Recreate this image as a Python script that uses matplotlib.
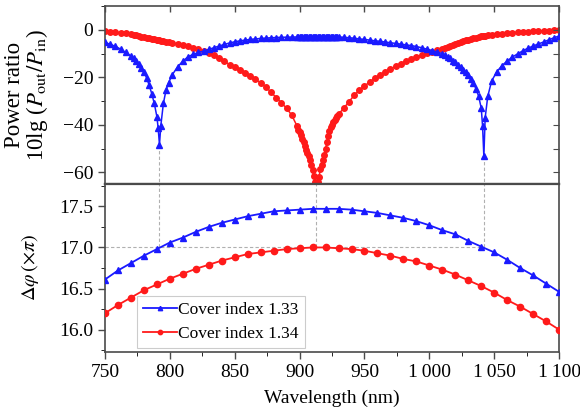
import matplotlib
matplotlib.use('Agg')
import matplotlib.pyplot as plt
import numpy as np
from matplotlib.ticker import MultipleLocator

plt.rcParams['font.family'] = ['Liberation Serif', 'DejaVu Serif']
plt.rcParams['mathtext.fontset'] = 'stix'

# power ratio panel (dB)
wl_top = [750, 754, 758, 762, 766, 770, 772, 774, 776, 778, 780, 782, 784, 786, 788, 790, 791, 792, 793, 795, 797, 799,
          802, 806, 810, 814, 818, 822, 826, 830, 834, 838, 842, 846, 850, 854, 858, 862, 866, 870, 874, 878, 882, 886,
          890, 894, 898,
          899, 900, 901, 902, 903, 904, 905, 906, 907, 908, 909, 910, 911, 912, 913, 914, 915, 916, 917, 918, 919, 920,
          921, 922, 923, 924, 925, 926, 927, 928, 929, 930,
          934, 938, 942, 946, 950, 954, 958, 962, 966, 970, 974, 978, 982, 986, 990, 994, 998, 1002, 1006, 1010,
          1012, 1014, 1016, 1018, 1020, 1022, 1024, 1026, 1028, 1030, 1032, 1034, 1036, 1038, 1040, 1041, 1042, 1043, 1045,
          1048, 1052, 1056, 1060, 1064, 1068, 1072, 1076, 1080, 1084, 1088, 1092, 1096, 1100]

blue_top = [-5.2, -6.1, -6.9, -8.1, -9.5, -11.0, -12.0, -13.1, -14.4, -15.9, -17.8, -20.1, -23.2, -26.8, -31.0, -36.5,
            -41.5, -48.4, -40.5, -31.0, -25.5, -22.2,
            -18.8, -15.5, -13.2, -11.3, -10.3, -9.5, -8.9, -8.2, -7.5, -6.8, -6.1, -5.5, -5.0, -4.6, -4.3, -4.0, -3.8,
            -3.6, -3.45, -3.3, -3.2, -3.1, -3.05, -3.0, -2.95,
            -2.95, -2.95, -2.94, -2.94, -2.93, -2.93, -2.92, -2.92, -2.91, -2.91, -2.9, -2.9, -2.9, -2.9, -2.9, -2.9,
            -2.9, -2.9, -2.9, -2.9, -2.9, -2.9, -2.91, -2.91, -2.92, -2.92, -2.93, -2.94, -2.95, -2.96, -2.97, -2.98,
            -3.1, -3.3, -3.5, -3.8, -4.0, -4.3, -4.6, -4.8, -5.1, -5.4, -5.7, -6.0, -6.3, -6.6, -7.0, -7.5, -8.1, -8.7,
            -9.3, -10.0,
            -10.7, -11.3, -12.0, -12.9, -13.7, -14.6, -15.6, -16.7, -17.8, -19.0, -20.6, -22.5, -24.9, -28.0, -33.0,
            -40.5, -53.3, -37.0, -28.0,
            -21.5, -17.6, -15.0, -13.1, -11.4, -10.1, -8.8, -7.7, -6.8, -5.9, -5.1, -4.2, -3.3, -2.6]

red_top = [-0.3, -0.7, -1.0, -1.3, -1.5, -1.8, -2.0, -2.3, -2.5, -2.8, -3.0, -3.2, -3.4, -3.7, -3.9, -4.1, -4.2, -4.3,
           -4.5, -4.7, -4.9, -5.2,
           -5.5, -6.0, -6.3, -6.9, -7.5, -8.2, -9.0, -9.7, -10.7, -11.9, -13.2, -14.6, -15.8, -16.8, -18.1, -19.4,
           -20.8, -22.3, -24.0, -26.3, -28.5, -30.8, -33.0, -36.0, -40.5,
           -42.0, -43.2, -44.4, -45.8, -47.3, -49.0, -50.4, -51.8, -53.3, -55.0, -57.0, -59.0, -61.5, -64.0, -64.8,
           -64.0, -62.0, -58.5, -56.8, -55.0, -52.5, -50.0, -47.2, -44.5, -42.6, -41.0, -40.0, -39.0, -38.0, -37.0,
           -36.2, -35.5,
           -33.0, -30.3, -27.6, -25.4, -23.6, -22.0, -20.4, -18.9, -17.8, -16.5, -15.3, -14.2, -13.2, -12.4, -11.5,
           -10.7, -9.9, -9.2, -8.6, -7.9,
           -7.5, -7.0, -6.6, -6.2, -5.8, -5.4, -5.0, -4.7, -4.4, -4.1, -3.8, -3.5, -3.2, -3.0, -2.7, -2.6, -2.5, -2.4,
           -2.2,
           -2.0, -1.8, -1.6, -1.4, -1.2, -1.0, -0.85, -0.7, -0.55, -0.45, -0.35, -0.25, -0.15, -0.1]

# phase difference panel (units of pi)
wl_phase = [750, 760, 770, 780, 790, 800, 810, 820, 830, 840, 850, 860, 870, 880, 890, 900, 910, 920, 930, 940,
            950, 960, 970, 980, 990, 1000, 1010, 1020, 1030, 1040, 1050, 1060, 1070, 1080, 1090, 1100]
blue_phase = [16.61, 16.72, 16.81, 16.90, 16.98, 17.06, 17.12, 17.19, 17.25, 17.30, 17.34, 17.38, 17.41, 17.44,
              17.45, 17.46, 17.47, 17.47, 17.47, 17.46, 17.44, 17.42, 17.39, 17.36, 17.32, 17.27, 17.21, 17.16,
              17.08, 17.01, 16.94, 16.85, 16.75, 16.66, 16.56, 16.46]
red_phase = [16.20, 16.30, 16.39, 16.48, 16.55, 16.62, 16.68, 16.74, 16.79, 16.84, 16.88, 16.92, 16.94, 16.96,
             16.98, 16.99, 17.00, 17.00, 16.99, 16.98, 16.96, 16.93, 16.90, 16.86, 16.83, 16.78, 16.73, 16.67,
             16.60, 16.53, 16.45, 16.36, 16.28, 16.19, 16.10, 16.00]
phase_ref = 17.0

labels = ['Cover index 1.33', 'Cover index 1.34']
xticks = [750, 800, 850, 900, 950, 1000, 1050, 1100]
xticklabels = ['750', '800', '850', '900', '950', '1\u2009000', '1\u2009050', '1\u2009100']

blue = '#1a1aff'
red = '#ff1a1a'
spine_col = '#4a4a4a'
guide_col = '#b0b0b0'

wl_top_a = np.array(wl_top)
blue_top_a = np.array(blue_top)
red_top_a = np.array(red_top)
left = wl_top_a < 900
x_null1 = wl_top_a[left][np.argmin(blue_top_a[left])]
y_null1 = blue_top_a[left].min()
x_null2 = wl_top_a[~left][np.argmin(blue_top_a[~left])]
y_null2 = blue_top_a[~left].min()
x_null3 = wl_top_a[np.argmin(red_top_a)]

fig = plt.figure(figsize=(5.8, 4.12), dpi=100)
ax1 = fig.add_axes([0.181, 0.553, 0.783, 0.432])
ax2 = fig.add_axes([0.181, 0.146, 0.783, 0.407])

# guide lines
gl = dict(color=guide_col, lw=0.8, ls=(0, (3, 2)), zorder=1)
ax1.plot([x_null1, x_null1], [y_null1, -65], **gl)
ax1.plot([x_null2, x_null2], [y_null2, -65], **gl)
for xn in (x_null1, x_null3, x_null2):
    ax2.plot([xn, xn], [phase_ref, 17.77], **gl)
ax2.plot([750, x_null2], [phase_ref, phase_ref], **gl)

ax1.plot(wl_top, blue_top, color=blue, marker='^', ms=4, lw=1.1, zorder=3)
ax1.plot(wl_top, red_top, color=red, marker='o', ms=4, lw=1.1, zorder=2)

ax2.plot(wl_phase, blue_phase, color=blue, marker='^', ms=4.5, lw=1.3, label=labels[0], zorder=3)
ax2.plot(wl_phase, red_phase, color=red, marker='o', ms=4.5, lw=1.3, label=labels[1], zorder=3)

for ax in (ax1, ax2):
    ax.set_xlim(750, 1100)
    for s in ax.spines.values():
        s.set_color(spine_col)
        s.set_linewidth(1.2)
    ax.tick_params(colors=spine_col, labelcolor='black', labelsize=14, width=1.0)

ax1.spines['bottom'].set_linewidth(1.6)
ax2.spines['top'].set_linewidth(1.6)

# top panel axes
ax1.set_ylim(-65, 10)
ax1.set_yticks([-60, -40, -20, 0])
ax1.yaxis.set_minor_locator(MultipleLocator(10))
ax1.set_xticks(xticks)
ax1.tick_params(axis='y', which='major', direction='out', length=5, left=True, right=False)
ax1.tick_params(axis='y', which='minor', direction='out', length=3, left=True, right=False)
ax1.tick_params(axis='x', which='both', bottom=False, labelbottom=False, top=True, direction='in', length=4)
ax1r = ax1.twinx()
ax1r.set_ylim(-65, 10)
ax1r.set_yticks([-60, -50, -40, -30, -20, -10, 0])
ax1r.tick_params(axis='y', direction='in', length=4, labelright=False, colors=spine_col)
for s in ax1r.spines.values():
    s.set_visible(False)

ax1.set_ylabel('Power ratio\n10lg ($P_{\\mathrm{out}}/P_{\\mathrm{in}}$)', fontsize=16.5, linespacing=0.95)
ax1.yaxis.set_label_coords(-0.12, 0.5)

# bottom panel axes
ax2.set_ylim(15.73, 17.77)
ax2.set_yticks([16.0, 16.5, 17.0, 17.5])
ax2.set_yticklabels(['16.0', '16.5', '17.0', '17.5'])
ax2.yaxis.set_minor_locator(MultipleLocator(0.25))
ax2.set_xticks(xticks)
ax2.set_xticklabels(xticklabels)
ax2.xaxis.set_minor_locator(MultipleLocator(25))
ax2.tick_params(which='major', direction='out', length=5)
ax2.tick_params(which='minor', direction='out', length=3)
ax2.tick_params(axis='x', pad=4)
ax2.set_ylabel('$\\Delta\\varphi\\,(\\times\\pi)$', fontsize=14.5)
ax2.yaxis.set_label_coords(-0.14, 0.5)
ax2.set_xlabel('Wavelength (nm)', fontsize=14, labelpad=6)

leg = ax2.legend(loc='lower left', bbox_to_anchor=(0.062, 0.0), fontsize=12.5, frameon=True, fancybox=False,
                 handlelength=2.0, handletextpad=0.05, borderpad=0.35, labelspacing=0.45, markerscale=0.7,
                 borderaxespad=0.2)
leg.get_frame().set_edgecolor('#c0c0c0')
leg.get_frame().set_linewidth(0.8)

fig.savefig('out.png', dpi=100)
